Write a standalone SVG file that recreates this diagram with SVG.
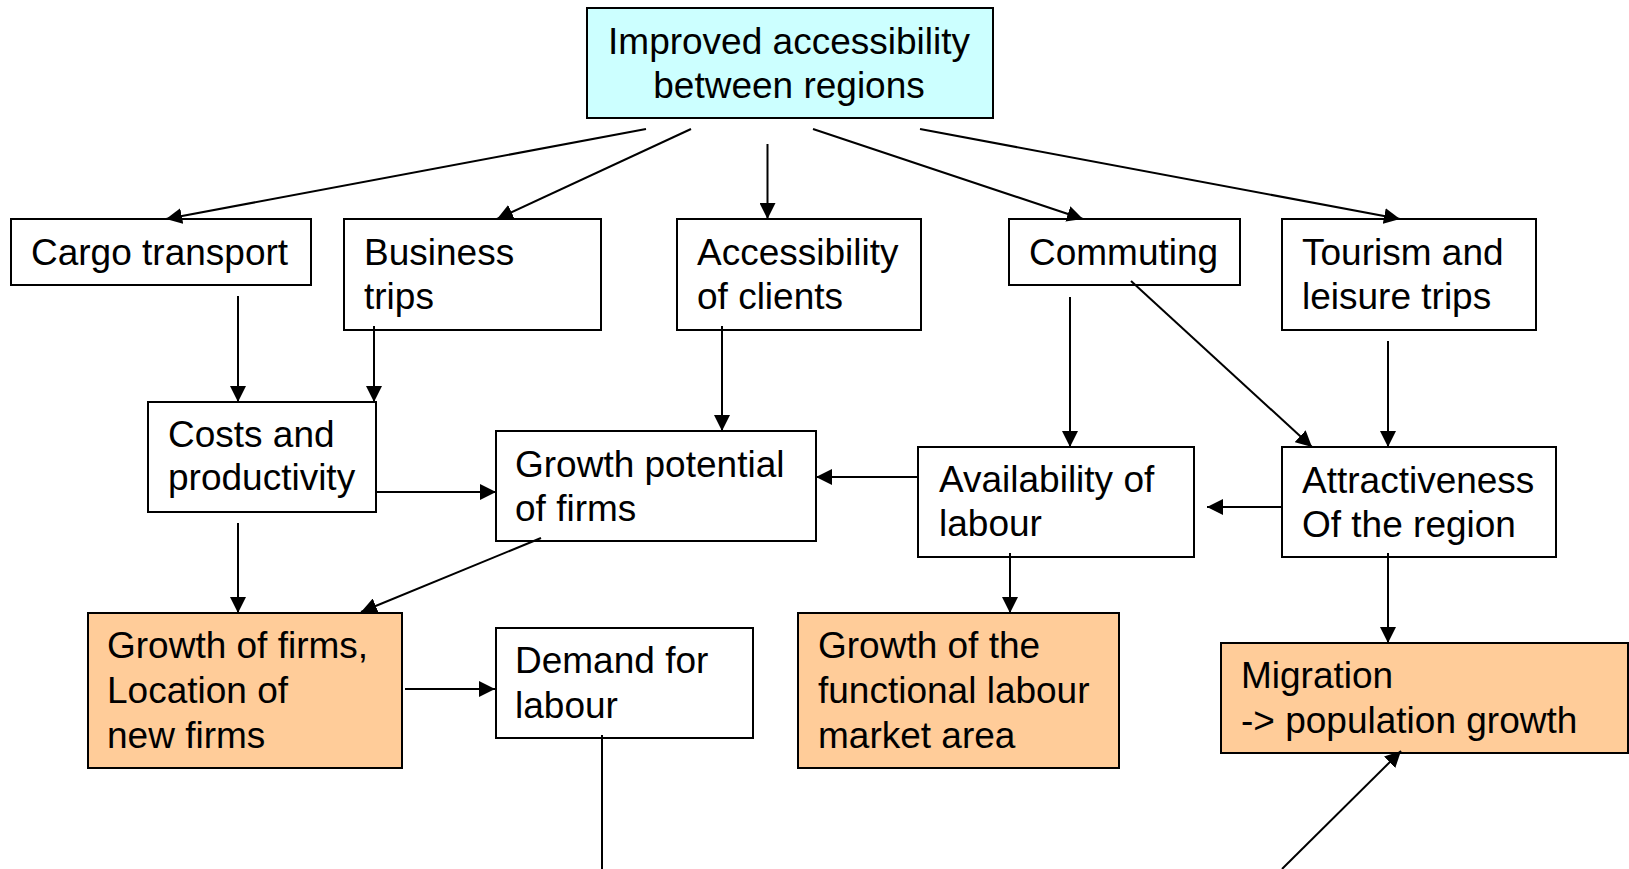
<svg xmlns="http://www.w3.org/2000/svg" width="1629" height="869" viewBox="0 0 1629 869">
<style>
.box{fill:#ffffff;stroke:#000;stroke-width:2}
.cyan{fill:#ccffff}
.orange{fill:#ffcc99}
text{font-family:"Liberation Sans",Arial,sans-serif;font-size:37px;fill:#000}
.c line{stroke:#000;stroke-width:2;marker-end:url(#ah)}
.c line.plain{marker-end:none}
</style>
<defs>
<marker id="ah" markerUnits="userSpaceOnUse" markerWidth="16" markerHeight="16" refX="16" refY="8" orient="auto" viewBox="0 0 16 16">
<path d="M0,0 L16,8 L0,16 z" fill="#000"/>
</marker>
</defs>
<rect width="1629" height="869" fill="#fff"/>
<g id="n-top"><rect class="box cyan" x="587" y="8" width="406" height="110"/><text x="789" y="54" text-anchor="middle">Improved accessibility</text><text x="789" y="98" text-anchor="middle">between regions</text></g>
<g id="n-cargo"><rect class="box" x="11" y="219" width="300" height="66"/><text x="31" y="265">Cargo transport</text></g>
<g id="n-business"><rect class="box" x="344" y="219" width="257" height="111"/><text x="364" y="265">Business</text><text x="364" y="309">trips</text></g>
<g id="n-access"><rect class="box" x="677" y="219" width="244" height="111"/><text x="697" y="265">Accessibility</text><text x="697" y="309">of clients</text></g>
<g id="n-commuting"><rect class="box" x="1009" y="219" width="231" height="66"/><text x="1029" y="265">Commuting</text></g>
<g id="n-tourism"><rect class="box" x="1282" y="219" width="254" height="111"/><text x="1302" y="265">Tourism and</text><text x="1302" y="309">leisure trips</text></g>
<g id="n-costs"><rect class="box" x="148" y="402" width="228" height="110"/><text x="168" y="447">Costs and</text><text x="168" y="490">productivity</text></g>
<g id="n-growthpot"><rect class="box" x="496" y="431" width="320" height="110"/><text x="515" y="477">Growth potential</text><text x="515" y="521">of firms</text></g>
<g id="n-avail"><rect class="box" x="918" y="447" width="276" height="110"/><text x="939" y="492">Availability of</text><text x="939" y="536">labour</text></g>
<g id="n-attract"><rect class="box" x="1282" y="447" width="274" height="110"/><text x="1302" y="493">Attractiveness</text><text x="1302" y="537">Of the region</text></g>
<g id="n-growthfirms"><rect class="box orange" x="88" y="613" width="314" height="155"/><text x="107" y="658">Growth of firms,</text><text x="107" y="703">Location of</text><text x="107" y="748">new firms</text></g>
<g id="n-demand"><rect class="box" x="496" y="628" width="257" height="110"/><text x="515" y="673">Demand for</text><text x="515" y="718">labour</text></g>
<g id="n-functional"><rect class="box orange" x="798" y="613" width="321" height="155"/><text x="818" y="658">Growth of the</text><text x="818" y="703">functional labour</text><text x="818" y="748">market area</text></g>
<g id="n-migration"><rect class="box orange" x="1221" y="643" width="407" height="110"/><text x="1241" y="688">Migration</text><text x="1241" y="733">-&gt; population growth</text></g>
<g id="connectors" class="c">
<line x1="646" y1="129" x2="166" y2="219"/>
<line x1="691" y1="129" x2="497" y2="219"/>
<line x1="767.5" y1="144" x2="767.5" y2="219"/>
<line x1="813" y1="129" x2="1083" y2="219"/>
<line x1="920" y1="129" x2="1400" y2="219"/>
<line x1="238" y1="296" x2="238" y2="402"/>
<line x1="374" y1="326" x2="374" y2="402"/>
<line x1="722" y1="326" x2="722" y2="431"/>
<line x1="1070" y1="297" x2="1070" y2="447"/>
<line x1="1131" y1="281" x2="1312" y2="447"/>
<line x1="1388" y1="341" x2="1388" y2="447"/>
<line x1="375" y1="492" x2="496" y2="492"/>
<line x1="918" y1="477" x2="816" y2="477"/>
<line x1="1281" y1="507" x2="1207" y2="507"/>
<line x1="238" y1="523" x2="238" y2="613"/>
<line x1="541" y1="538" x2="361" y2="612"/>
<line x1="1010" y1="553" x2="1010" y2="613"/>
<line x1="1388" y1="553" x2="1388" y2="643"/>
<line x1="405" y1="689" x2="495" y2="689"/>
<line class="plain" x1="602" y1="735" x2="602" y2="869"/>
<line x1="1282" y1="869" x2="1401" y2="751"/>
</g>
</svg>
